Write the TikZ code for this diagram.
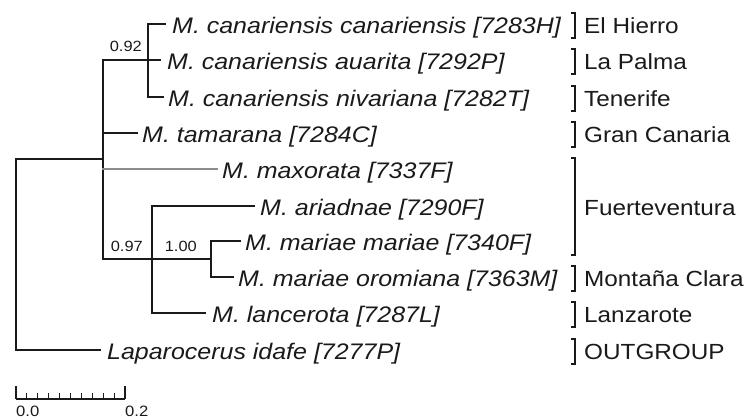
\documentclass[tikz,border=0pt]{standalone}
\usepackage{fontspec}
\setmainfont{Liberation Sans}
% all text is set slightly widened
\newfontfamily\labfont[FakeStretch=1.11]{Liberation Sans}
\definecolor{ink}{HTML}{1A1A1A}
\definecolor{paleink}{HTML}{8C8C8C}
\begin{document}
\begin{tikzpicture}[x=1pt,y=-1pt,
  branch/.style={line width=1.3pt,draw=ink,line cap=rect},
  palebranch/.style={line width=1.3pt,draw=paleink,line cap=rect},
  taxon/.style={anchor=base west,inner sep=0pt,text=ink,font=\labfont\itshape\fontsize{22.5}{26}\selectfont},
  region/.style={anchor=base west,inner sep=0pt,text=ink,font=\labfont\fontsize{21.9}{25}\selectfont},
  support/.style={anchor=base east,inner sep=0pt,text=ink,font=\labfont\fontsize{14.8}{17}\selectfont},
  scalelab/.style={anchor=base west,inner sep=0pt,text=ink,font=\labfont\fontsize{15}{18}\selectfont},
  bracket/.style={line width=1.1pt,draw=ink}]
\useasboundingbox (0,0) rectangle (751,419);

% internal nodes of the tree
\coordinate (R) at (16,254);
\coordinate (I) at (103,159);
\coordinate (C) at (148,60);
\coordinate (F) at (152,259);
\coordinate (M) at (211,259);

% branch tips
\coordinate (t1) at (165,24);
\coordinate (t2) at (160,60);
\coordinate (t3) at (163,97);
\coordinate (t4) at (137,133);
\coordinate (t5) at (217,169);
\coordinate (t6) at (254,206);
\coordinate (t7) at (240,241);
\coordinate (t8) at (233,277);
\coordinate (t9) at (205,313);
\coordinate (t10) at (100,350);

% branches
\draw[branch] (R) |- (I);
\draw[branch] (R) |- (t10);
\draw[branch] (I) |- (C);
\draw[branch] (I) |- (t4);
\draw[branch] (I) |- (F);
\draw[palebranch] (I |- t5) -- (t5);
\draw[branch] (C) |- (t1);
\draw[branch] (C) |- (t2);
\draw[branch] (C) |- (t3);
\draw[branch] (F) |- (t6);
\draw[branch] (F) |- (M);
\draw[branch] (F) |- (t9);
\draw[branch] (M) |- (t7);
\draw[branch] (M) |- (t8);

% taxon labels
\node[taxon] (L1) at ([shift={(7,9.5)}]t1) {M. canariensis canariensis [7283H]};
\node[taxon] (L2) at ([shift={(7,9.5)}]t2) {M. canariensis auarita [7292P]};
\node[taxon] (L3) at ([shift={(5,9.5)}]t3) {M. canariensis nivariana [7282T]};
\node[taxon] (L4) at ([shift={(5,9.5)}]t4) {M. tamarana [7284C]};
\node[taxon] (L5) at ([shift={(5,9.5)}]t5) {M. maxorata [7337F]};
\node[taxon] (L6) at ([shift={(6,9.5)}]t6) {M. ariadnae [7290F]};
\node[taxon] (L7) at ([shift={(5,9.5)}]t7) {M. mariae mariae [7340F]};
\node[taxon] (L8) at ([shift={(5,9.5)}]t8) {M. mariae oromiana [7363M]};
\node[taxon] (L9) at ([shift={(7,9.5)}]t9) {M. lancerota [7287L]};
\node[taxon] (L10) at ([shift={(7,9.5)}]t10) {Laparocerus idafe [7277P]};

% support values
\node[support] (s1) at ([shift={(-6,-8)}]C) {0.92};
\node[support] (s2) at ([shift={(-9,-7)}]F) {0.97};
\node[support] (s3) at ([shift={(-14,-7)}]M) {1.00};

% island brackets
\draw[bracket] (571,13) -- (575,13) -- (575,38) -- (571,38);
\draw[bracket] (571,49) -- (575,49) -- (575,74) -- (571,74);
\draw[bracket] (571,86) -- (575,86) -- (575,111) -- (571,111);
\draw[bracket] (571,122) -- (575,122) -- (575,147) -- (571,147);
\draw[bracket] (571,158) -- (575,158) -- (575,255) -- (571,255);
\draw[bracket] (571,266) -- (575,266) -- (575,291) -- (571,291);
\draw[bracket] (571,302) -- (575,302) -- (575,327) -- (571,327);
\draw[bracket] (571,339) -- (575,339) -- (575,364) -- (571,364);

% island names
\node[region] (g1) at (584,33.5) {El Hierro};
\node[region] (g2) at (584,69.5) {La Palma};
\node[region] (g3) at (584,106.5) {Tenerife};
\node[region] (g4) at (584,142.5) {Gran Canaria};
\node[region] (g5) at (584,215.5) {Fuerteventura};
\node[region] (g6) at (584,286.5) {Montaña Clara};
\node[region] (g7) at (584,322.5) {Lanzarote};
\node[region] (g8) at (584,359.5) {OUTGROUP};

% scale bar
\draw[bracket] (16,399) -- (125,399);
\draw[bracket] (16,386) -- (16,399);
\draw[bracket] (125,386) -- (125,399);
\foreach \k in {1,...,9}
  \draw[bracket] ({16+10.9*\k},393) -- ({16+10.9*\k},399);
\node[scalelab] (z0) at (16,416) {0.0};
\node[scalelab] (z2) at (125,416) {0.2};
\end{tikzpicture}
\end{document}
